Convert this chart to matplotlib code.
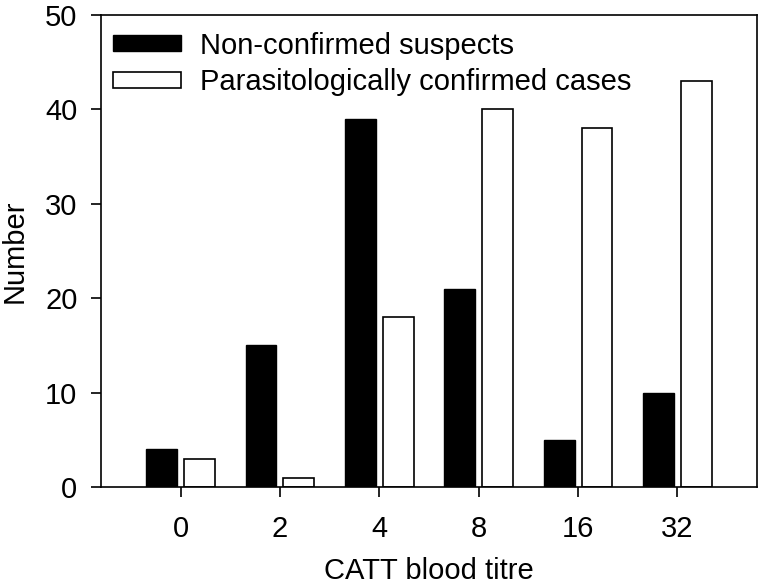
import matplotlib
matplotlib.use("Agg")
import matplotlib.pyplot as plt
import numpy as np

plt.rcParams['font.family'] = ['Liberation Sans', 'DejaVu Sans']

categories = ["0", "2", "4", "8", "16", "32"]
non_confirmed = [4, 15, 39, 21, 5, 10]
confirmed = [3, 1, 18, 40, 38, 43]

fig = plt.figure(figsize=(7.61, 5.88), dpi=100)
ax = fig.add_axes([101/761, 1 - 487/588, 656/761, 472/588])

x = np.arange(len(categories))
w = 0.31
off = 0.19
ax.bar(x - off, non_confirmed, w, color='black', edgecolor='black', linewidth=1.0,
       label='Non-confirmed suspects')
ax.bar(x + off, confirmed, w, color='white', edgecolor='black', linewidth=1.2,
       label='Parasitologically confirmed cases')

ax.set_xlim(-0.8, 5.8)
ax.set_ylim(0, 50)
ax.set_xticks(x)
ax.set_xticklabels(categories)
ax.set_yticks([0, 10, 20, 30, 40, 50])
ax.tick_params(axis='both', direction='out', length=7, width=1.2, labelsize=21,
               top=False, right=False)
ax.tick_params(axis='x', pad=13)
ax.tick_params(axis='y', pad=10)
for s in ax.spines.values():
    s.set_linewidth(1.2)

ax.set_xlabel('CATT blood titre', fontsize=21, labelpad=10)
ax.set_ylabel('Number', fontsize=21, labelpad=12)

leg = ax.legend(loc='upper left', frameon=False, fontsize=21,
                handlelength=2.33, handleheight=0.48, handletextpad=0.65,
                borderaxespad=0.0, borderpad=0.4, labelspacing=0.3,
                bbox_to_anchor=(0.0, 1.0 - 5/472))

fig.savefig('out.png', dpi=100)
